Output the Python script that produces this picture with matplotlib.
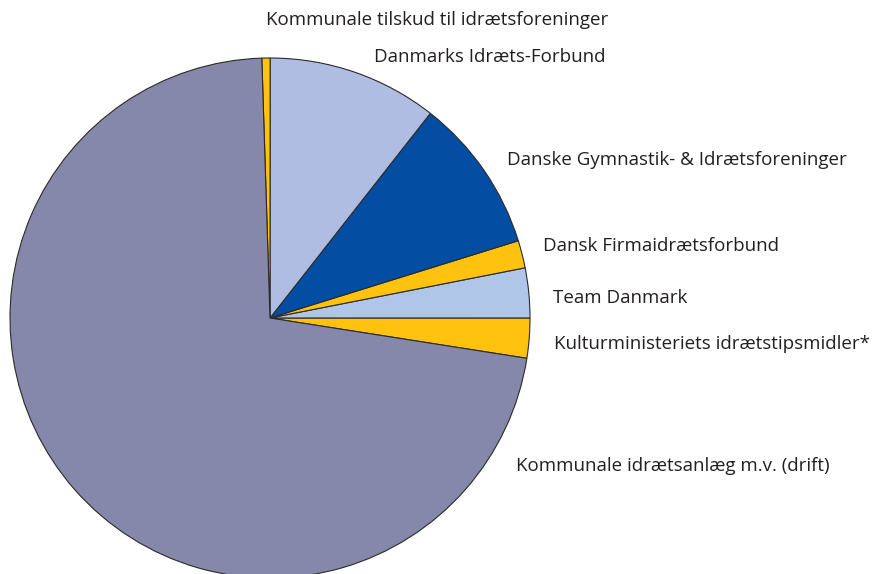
import matplotlib.pyplot as plt

# share of funding, percent
labels = ["Kulturministeriets idrætstipsmidler*",
          "Team Danmark",
          "Dansk Firmaidrætsforbund",
          "Danske Gymnastik- & Idrætsforeninger",
          "Kommunale tilskud til idrætsforeninger",
          "Danmarks Idræts-Forbund",
          "Kommunale idrætsanlæg m.v. (drift)"]
values = [2.48, 3.09, 1.71, 9.62, 10.57, 0.51, 72.02]
colors = ["#FFC20E", "#AFC6E8", "#FFC20E", "#034EA2", "#AFBDE2", "#FFC20E", "#8588AA"]

# label anchor points in pixels (left edge, vertical centre)
label_pos = [(554, 344), (553, 298), (543, 246), (507, 160),
             (266, 20), (374, 57), (516, 466)]

W, H = 892, 574
fig = plt.figure(figsize=(W / 100, H / 100), dpi=100)
fig.patch.set_facecolor("white")

# pie centre at (270, 318) px, radius 260 px
cx, cy, r = 270, 318, 260
ax = fig.add_axes([(cx - r) / W, (H - cy - r) / H, 2 * r / W, 2 * r / H])

wedges, _ = ax.pie(values, colors=colors, startangle=-8.92, counterclock=True,
                   radius=1, wedgeprops=dict(edgecolor="#2a2a2a", linewidth=0.8))
for w in wedges:
    w.set_clip_on(False)
ax.set_xlim(-1, 1)
ax.set_ylim(-1, 1)
ax.set_aspect("equal")
ax.axis("off")

for lab, (x, y) in zip(labels, label_pos):
    fig.text(x / W, 1 - y / H, lab, ha="left", va="center",
             fontsize=13.5, color="#231f20", family="Open Sans")

fig.savefig("out.png", dpi=100)
